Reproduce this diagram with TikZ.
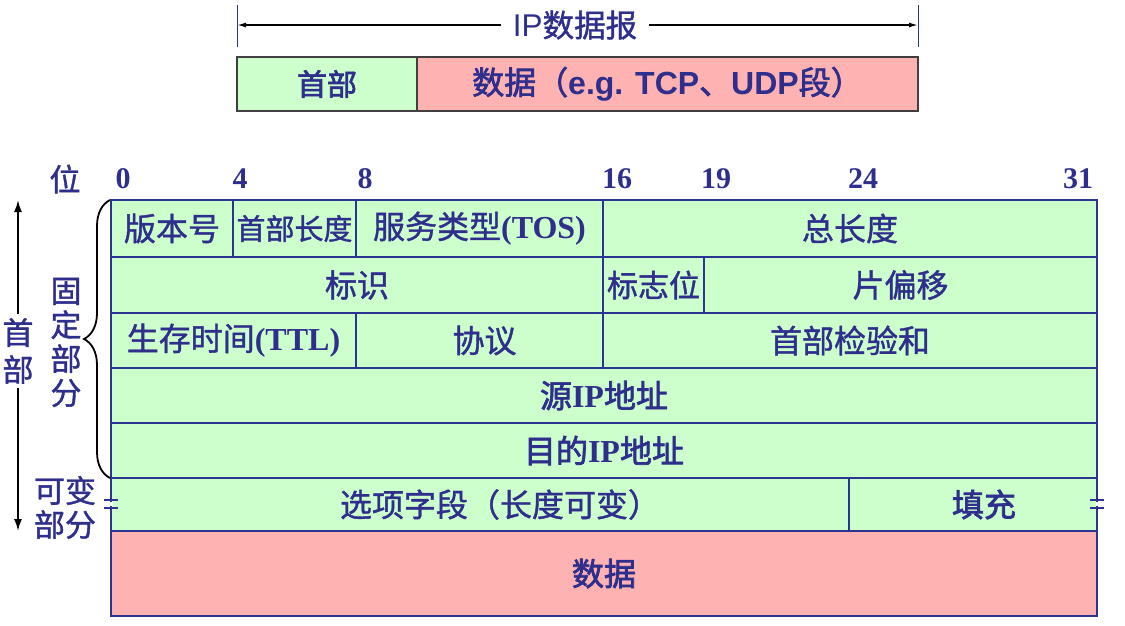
\documentclass[tikz,border=0pt]{standalone}
\usepackage{fontspec}
\setmainfont{Liberation Serif}
\newfontfamily\cjk[FakeBold=1.2]{Noto Sans CJK SC}
\newfontfamily\cjkb[FakeBold=2.2]{Noto Sans CJK SC}
\newfontfamily\arialfont{Liberation Sans}
\usetikzlibrary{arrows.meta,decorations.pathreplacing}
\definecolor{ipgreen}{RGB}{204,255,204}
\definecolor{ippink}{RGB}{255,178,178}
\definecolor{ipnavy}{RGB}{43,52,145}
\definecolor{iptext}{RGB}{46,46,140}

\begin{document}
\begin{tikzpicture}
[every node/.style={inner sep=0pt, outer sep=0pt},
 field/.style={rectangle, draw=ipnavy, line width=1.5pt, fill=ipgreen, text=iptext, font=\cjk\fontsize{32}{32}\selectfont},
 topbox/.style={rectangle, draw=black!75, line width=1.2pt, minimum height=54pt, text=iptext, font=\cjkb\fontsize{31}{31}\selectfont},
 bitno/.style={text=iptext, font=\rmfamily\bfseries\fontsize{30}{30}\selectfont},
 sidetext/.style={text=iptext, align=center, font=\cjk\fontsize{31}{34}\selectfont},
 >={Latex[length=12pt,width=8pt]}]
\useasboundingbox (0pt,0pt) rectangle (1125pt,-625pt);
% top: the whole datagram
\coordinate (dl) at (237pt, -25pt);
\coordinate (dr) at (918pt, -25pt);
\draw [line width=0.8pt, color=ipnavy] (237pt, -5pt) -- (237pt, -47pt);
\draw [line width=0.8pt, color=ipnavy] (918pt, -5pt) -- (918pt, -47pt);
\draw [line width=1.5pt, {Latex[length=9pt,width=5pt]}-{Latex[length=9pt,width=5pt]}, color=black] (dl) -- (dr);
\node (dgram) [fill=white, inner xsep=12pt, inner ysep=2pt, text=iptext, font=\cjk\fontsize{31.5}{32}\selectfont] at (575pt, -25pt) {{\arialfont IP}数据报};
\node (tophdr) [topbox, fill=ipgreen, minimum width=180pt, font=\cjkb\fontsize{30}{30}\selectfont] at (327pt, -84pt) {首部};
\node (topdata) [topbox, fill=ippink, minimum width=501pt, font=\cjkb\fontsize{32}{32}\selectfont] at (667.5pt, -84pt) {数据（{\arialfont\bfseries e.g. TCP}、{\arialfont\bfseries UDP}段）};
% bit positions
\node (pos) [text=iptext, font=\cjk\fontsize{31}{31}\selectfont] at (65pt, -179pt) {位};
\node (b0) [bitno] at (123pt, -179pt) {0};
\node (b4) [bitno] at (240pt, -179pt) {4};
\node (b8) [bitno] at (365pt, -179pt) {8};
\node (b16) [bitno] at (617pt, -179pt) {16};
\node (b19) [bitno] at (716pt, -179pt) {19};
\node (b24) [bitno] at (863pt, -179pt) {24};
\node (b31) [bitno] at (1078pt, -179pt) {31};
% row 1
\node (ver) [field, minimum width=122pt, minimum height=57pt] at (172pt, -228.5pt) {版本号};
\node (ihl) [field, minimum width=123pt, minimum height=57pt, font=\cjk\fontsize{29}{30}\selectfont] at (294.5pt, -228.5pt) {首部长度};
\node (tos) [field, minimum width=247pt, minimum height=57pt] at (479.5pt, -228.5pt) {服务类型{\rmfamily\bfseries (TOS)}};
\node (totlen) [field, minimum width=494pt, minimum height=57pt] at (850pt, -228.5pt) {总长度};
% row 2
\node (ident) [field, minimum width=492pt, minimum height=56pt] at (357pt, -285pt) {标识};
\node (flags) [field, minimum width=101pt, minimum height=56pt, font=\cjk\fontsize{31}{31}\selectfont] at (653.5pt, -285pt) {标志位};
\node (fragoff) [field, minimum width=393pt, minimum height=56pt] at (900.5pt, -285pt) {片偏移};
% row 3
\node (ttl) [field, minimum width=245pt, minimum height=55pt] at (233.5pt, -340.5pt) {生存时间{\rmfamily\bfseries (TTL)}};
\node (proto) [field, minimum width=247pt, minimum height=55pt] at (479.5pt, -340.5pt) {\hspace{10pt}协议};
\node (csum) [field, minimum width=494pt, minimum height=55pt] at (850pt, -340.5pt) {首部检验和};
% rows 4 and 5
\node (srcip) [field, minimum width=986pt, minimum height=55pt] at (604pt, -395.5pt) {\cjkb 源{\rmfamily\bfseries IP}地址};
\node (dstip) [field, minimum width=986pt, minimum height=55pt] at (604pt, -450.5pt) {\cjkb 目的{\rmfamily\bfseries IP}地址};
% row 6
\node (opts) [field, minimum width=738pt, minimum height=53pt] at (480pt, -504.5pt) {\hspace{40pt}选项字段（长度可变）};
\node (pad) [field, minimum width=248pt, minimum height=53pt] at (973pt, -504.5pt) {\cjkb\hspace{22pt}填充};
\node (data) [field, fill=ippink, minimum width=986pt, minimum height=85pt] at (604pt, -573.5pt) {\cjkb 数据};
\draw [line width=2.5pt, color=ipnavy] (ver.north west) rectangle (data.south east);
\draw [line width=2.5pt, color=ipnavy] (opts.south west) -- (pad.south east);
% break marks
\draw [line width=3pt, color=white] (111pt, -502pt) -- (111pt, -506pt);
\draw [line width=3pt, color=white] (1097pt, -502pt) -- (1097pt, -506pt);
\draw [line width=2.5pt, color=ipnavy] (104pt, -500pt) -- (118pt, -500pt);
\draw [line width=2.5pt, color=ipnavy] (104pt, -508pt) -- (118pt, -508pt);
\draw [line width=2.5pt, color=ipnavy] (1090pt, -500pt) -- (1104pt, -500pt);
\draw [line width=2.5pt, color=ipnavy] (1090pt, -508pt) -- (1104pt, -508pt);
% left side
\coordinate (bt) at (110pt, -200pt);
\coordinate (bb) at (110pt, -478pt);
\draw [decorate, decoration={brace, amplitude=26pt}, line width=1.8pt, color=black] (bb) -- (bt);
\node (fixed) [sidetext] at (66pt, -342.5pt) {固\\定\\部\\分};
\node (var) [sidetext] at (65pt, -507.5pt) {可变\\部分};
\coordinate (ht) at (18pt, -200pt);
\coordinate (hb) at (18pt, -531pt);
\draw [line width=1.8pt, <->, color=black] (ht) -- (hb);
\node (hdr) [sidetext, fill=white, inner ysep=4pt, font=\cjk\fontsize{31}{37}\selectfont] at (18pt, -351pt) {首\\部};
\end{tikzpicture}
\end{document}
